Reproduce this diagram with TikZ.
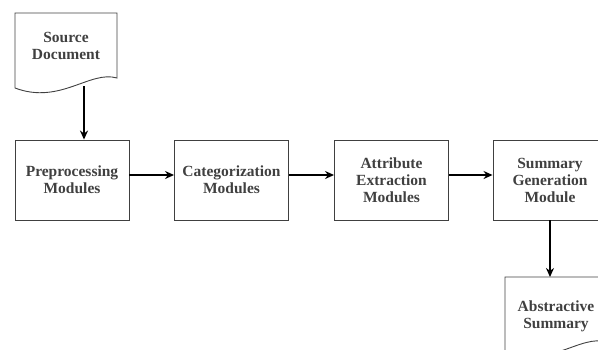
\documentclass[tikz,border=0pt]{standalone}
\usepackage{fontspec}
\setmainfont{Liberation Serif}
\usetikzlibrary{arrows.meta}

\tikzset{
  module/.style={draw=black!75, line width=0.9pt, minimum width=114pt, minimum height=80pt,
    inner sep=0pt, align=center, text=black!75, font=\bfseries\fontsize{15.5}{17}\selectfont},
  doctext/.style={align=center, text=black!75, font=\bfseries\fontsize{15.5}{17}\selectfont},
  docline/.style={draw=black!75, line width=0.9pt},
  flow/.style={-{Stealth[length=9pt,width=8pt]}, line width=1.8pt},
}

\begin{document}
\begin{tikzpicture}[x=1pt,y=-1pt]
    \clip (0,0) rectangle (598,349);

    % source document
    \draw[docline] (15,13) -- (117,13) -- (117,78)
        .. controls (90,70) and (60,105) .. (15,88) -- cycle;
    \node[doctext] (src) at (66,46) {Source\\Document};
    \coordinate (srcout) at (84,86);

    % modules
    \node[module] (pre) at (72,180) {Preprocessing\\Modules};
    \node[module] (cat) at (231.5,180) {Categorization\\Modules};
    \node[module] (att) at (391.5,180) {Attribute\\Extraction\\Modules};
    \node[module] (sum) at (550,180) {Summary\\Generation\\Module};

    % abstractive summary
    \draw[docline] (505,277) -- (607,277) -- (607,342)
        .. controls (580,334) and (550,369) .. (505,352) -- cycle;
    \node[doctext] (abs) at (556,316) {Abstractive\\Summary};
    \coordinate (abstop) at (556,277);

    \draw[flow] (srcout) -- (srcout |- pre.north);
    \draw[flow] ([yshift=5pt]pre.east) -- ([yshift=5pt]cat.west);
    \draw[flow] ([yshift=5pt]cat.east) -- ([yshift=5pt]att.west);
    \draw[flow] ([yshift=5pt]att.east) -- ([yshift=5pt]sum.west);
    \draw[flow] (sum.south) -- (sum.south |- abstop);
\end{tikzpicture}
\end{document}
